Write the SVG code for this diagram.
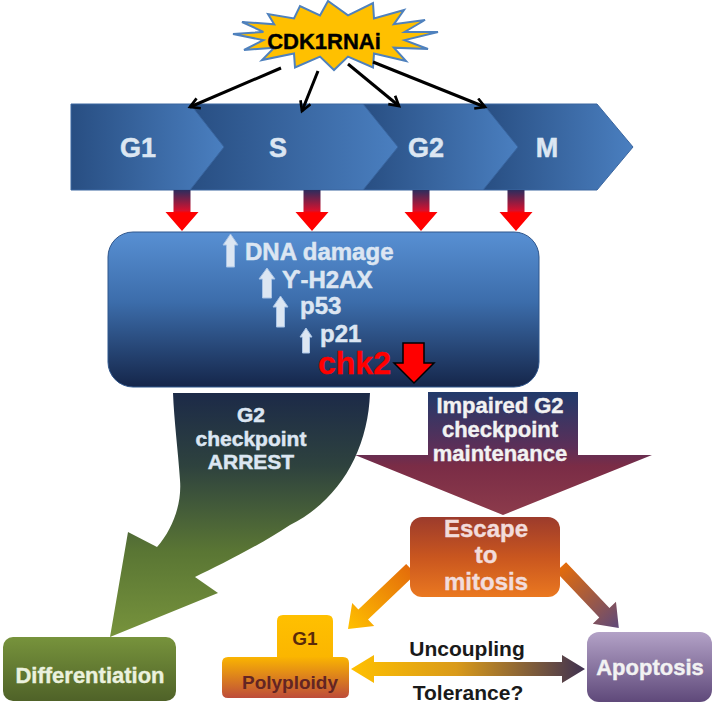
<svg xmlns="http://www.w3.org/2000/svg" width="724" height="706" viewBox="0 0 724 706">
<defs>
<style>
text{font-family:"Liberation Sans",Arial,sans-serif;font-weight:bold;text-anchor:middle}
.lt{fill:#dce6f2;stroke:#dce6f2;stroke-width:0.5}
.wt{fill:#f2f2f2;stroke:#f2f2f2;stroke-width:0.4}
.blk{stroke:#000;stroke-width:3;fill:none;marker-end:url(#va)}
.up{fill:#dce6f2;stroke:#a9c4e6;stroke-width:1}
</style>
<marker id="va" viewBox="0 0 10 10" refX="8" refY="5" markerWidth="4.5" markerHeight="4.5" orient="auto" markerUnits="strokeWidth">
<path d="M1,1 L8,5 L1,9" fill="none" stroke="#000" stroke-width="2"/>
</marker>
<linearGradient id="seg" x1="0" y1="0" x2="1" y2="0">
<stop offset="0" stop-color="#284e82"/><stop offset="1" stop-color="#4a7fc0"/>
</linearGradient>
<linearGradient id="red" x1="0" y1="0" x2="0" y2="1">
<stop offset="0" stop-color="#2b2d5e"/><stop offset="0.5" stop-color="#d6112e"/><stop offset="0.56" stop-color="#ff0000"/><stop offset="1" stop-color="#ff0000"/>
</linearGradient>
<linearGradient id="box" x1="0" y1="0" x2="0" y2="1">
<stop offset="0" stop-color="#5890d3"/><stop offset="0.45" stop-color="#3c6dab"/><stop offset="1" stop-color="#15264a"/>
</linearGradient>
<linearGradient id="grn" x1="0" y1="0" x2="0" y2="1">
<stop offset="0" stop-color="#1c2a48"/><stop offset="0.3" stop-color="#2e423e"/><stop offset="0.65" stop-color="#5a7634"/><stop offset="1" stop-color="#77933c"/>
</linearGradient>
<linearGradient id="imp" x1="0" y1="0" x2="0" y2="1">
<stop offset="0" stop-color="#213a6b"/><stop offset="0.45" stop-color="#5c2f58"/><stop offset="0.6" stop-color="#7a2c46"/><stop offset="1" stop-color="#8c3b4b"/>
</linearGradient>
<linearGradient id="esc" x1="0" y1="0" x2="0" y2="1">
<stop offset="0" stop-color="#9c3b2c"/><stop offset="0.5" stop-color="#c9561f"/><stop offset="1" stop-color="#ea7820"/>
</linearGradient>
<linearGradient id="dif" x1="0" y1="0" x2="0" y2="1">
<stop offset="0" stop-color="#77933c"/><stop offset="1" stop-color="#4f6228"/>
</linearGradient>
<linearGradient id="apo" x1="0" y1="0" x2="0" y2="1">
<stop offset="0" stop-color="#b3a2c7"/><stop offset="1" stop-color="#5f497a"/>
</linearGradient>
<linearGradient id="pol" x1="0" y1="0" x2="0" y2="1">
<stop offset="0" stop-color="#ffc000"/><stop offset="0.5" stop-color="#fbb600"/><stop offset="1" stop-color="#bd4c3a"/>
</linearGradient>
<linearGradient id="arL" x1="0" y1="0" x2="1" y2="0">
<stop offset="0" stop-color="#e46c0a"/><stop offset="1" stop-color="#ffc000"/>
</linearGradient>
<linearGradient id="arR" x1="0" y1="0" x2="1" y2="0">
<stop offset="0" stop-color="#e46c0a"/><stop offset="1" stop-color="#5f497a"/>
</linearGradient>
<linearGradient id="dbl" x1="0" y1="0" x2="1" y2="0">
<stop offset="0" stop-color="#ffc000"/><stop offset="0.45" stop-color="#d99a1a"/><stop offset="1" stop-color="#3f3151"/>
</linearGradient>
</defs>

<g id="cdk1rnai">
<polygon points="438,32 404.6,40.1 428,49 393.8,47.7 406,61 374,53.5 373,67.4 348,56.6 334,70 320,56.6 295,67.4 294,53.5 262,60 274.2,47.7 244,50 263.4,40.1 233,34 263.4,31.9 242,22 274.2,24.3 268,14 294,18.5 300,6 320,15.4 328,1 348,15.4 373,3 374,18.5 404,10 393.8,24.3 425,20 404.6,31.9" fill="#ffc000" stroke="#4f81bd" stroke-width="2" stroke-linejoin="miter"/>
<text x="324" y="49" font-size="22" fill="#000" stroke="#000" stroke-width="0.4">CDK1RNAi</text>
</g>

<g id="phase-m">
<polygon points="483,104 597,104 633,147 597,190 483,190" fill="url(#seg)" stroke="#3a66a0" stroke-width="1"/>
<text class="lt" x="547" y="157" font-size="27">M</text>
</g>
<g id="phase-g2">
<polygon points="363,104 483,104 518,147 483,190 363,190" fill="url(#seg)" stroke="#3a66a0" stroke-width="1"/>
<text class="lt" x="426" y="157" font-size="27">G2</text>
</g>
<g id="phase-s">
<polygon points="190,104 363,104 398,147 363,190 190,190" fill="url(#seg)" stroke="#3a66a0" stroke-width="1"/>
<text class="lt" x="278" y="157" font-size="27">S</text>
</g>
<g id="phase-g1">
<polygon points="71,104 190,104 224,147 190,190 71,190" fill="url(#seg)" stroke="#3a66a0" stroke-width="1"/>
<text class="lt" x="138" y="157" font-size="27">G1</text>
</g>

<g id="connectors">
<line class="blk" x1="281" y1="68" x2="190" y2="107"/>
<line class="blk" x1="318" y1="71" x2="302" y2="111"/>
<line class="blk" x1="348" y1="64" x2="399" y2="106"/>
<line class="blk" x1="373" y1="62" x2="485" y2="107"/>
<path d="M173.5,190 h17 v22 h8 l-16.5,19 l-16.5,-19 h8 z" fill="url(#red)"/>
<path d="M303.5,190 h17 v22 h8 l-16.5,19 l-16.5,-19 h8 z" fill="url(#red)"/>
<path d="M412.5,190 h17 v22 h8 l-16.5,19 l-16.5,-19 h8 z" fill="url(#red)"/>
<path d="M507.5,190 h17 v22 h8 l-16.5,19 l-16.5,-19 h8 z" fill="url(#red)"/>
<g transform="translate(411,569) rotate(136.4)">
<polygon points="0,-7 66,-7 66,-16 87,0 66,16 66,7 0,7" fill="url(#arL)"/>
</g>
<g transform="translate(561,567) rotate(46.5)">
<polygon points="0,-7 63,-7 63,-16 84,0 63,16 63,7 0,7" fill="url(#arR)"/>
</g>
<polygon points="351,669 374,655 374,662 562,662 562,655 585,669 562,683 562,676 374,676 374,683" fill="url(#dbl)"/>
<text x="467" y="656" font-size="21" fill="#1a1a1a">Uncoupling</text>
<text x="468" y="700" font-size="21" fill="#1a1a1a">Tolerance?</text>
</g>

<g id="damage-box">
<rect x="108" y="232" width="431" height="155" rx="25" fill="url(#box)" stroke="#2f568c" stroke-width="1"/>
<path class="up" d="M230.5,234 L238,245 L234.5,245 L234.5,267 L226.5,267 L226.5,245 L223,245 Z"/>
<text class="lt" x="245" y="260" font-size="24" style="text-anchor:start">DNA damage</text>
<path class="up" d="M267,268 L275,279 L271.5,279 L271.5,298 L262.5,298 L262.5,279 L259,279 Z"/>
<text class="lt" x="282" y="288" font-size="24" style="text-anchor:start">ϒ-H2AX</text>
<path class="up" d="M280.5,296 L288,307 L284.5,307 L284.5,327 L276.5,327 L276.5,307 L273,307 Z"/>
<text class="lt" x="300" y="314" font-size="24" style="text-anchor:start">p53</text>
<path class="up" d="M306,328 L312,337 L309.5,337 L309.5,353 L302.5,353 L302.5,337 L300,337 Z"/>
<text class="lt" x="320" y="342" font-size="24" style="text-anchor:start">p21</text>
<text x="318" y="374" font-size="32" fill="#ff0000" stroke="#ff0000" stroke-width="0.4" style="text-anchor:start">chk2</text>
<path d="M403,343 h21 v20 h10 l-20,20 l-20,-20 h9 z" fill="#ff0000" stroke="#000" stroke-width="1.5"/>
</g>

<g id="g2-arrest">
<path d="M173,393 L370,393 C368,450 340,500 290,525 C260,545 220,565 195,577 L218,593 L110,637 L128,532 L157,547 C172,530 182,505 180,480 C178,450 174,420 173,393 Z" fill="url(#grn)"/>
<text class="lt" x="251" y="422" font-size="21">G2</text>
<text class="lt" x="251" y="446" font-size="21">checkpoint</text>
<text class="lt" x="251" y="469" font-size="21">ARREST</text>
</g>

<g id="impaired-g2">
<polygon points="428,392 578,392 578,455 652,455 503,515 355,455 428,455" fill="url(#imp)"/>
<text class="wt" x="500" y="413" font-size="22">Impaired G2</text>
<text class="wt" x="500" y="437" font-size="22">checkpoint</text>
<text class="wt" x="500" y="461" font-size="22">maintenance</text>
</g>

<g id="escape">
<rect x="410" y="517" width="150" height="80" rx="12" fill="url(#esc)"/>
<text x="486" y="537" font-size="24" fill="#f2dcdb" stroke="#f2dcdb" stroke-width="0.4">Escape</text>
<text x="486" y="563" font-size="24" fill="#f2dcdb" stroke="#f2dcdb" stroke-width="0.4">to</text>
<text x="486" y="590" font-size="24" fill="#f2dcdb" stroke="#f2dcdb" stroke-width="0.4">mitosis</text>
</g>

<g id="differentiation">
<rect x="3" y="637" width="173" height="64" rx="10" fill="url(#dif)"/>
<text x="90" y="683" font-size="22" fill="#ebf1de" stroke="#ebf1de" stroke-width="0.4">Differentiation</text>
</g>

<g id="polyploidy">
<path d="M283,615 H327 Q333,615 333,621 V657 H343 Q349,657 349,663 V692 Q349,698 343,698 H228 Q222,698 222,692 V663 Q222,657 228,657 H277 V621 Q277,615 283,615 Z" fill="url(#pol)"/>
<text x="305" y="645" font-size="19" fill="#5a2a0a">G1</text>
<text x="290" y="689" font-size="19" fill="#632523">Polyploidy</text>
</g>

<g id="apoptosis">
<rect x="587" y="632" width="125" height="70" rx="12" fill="url(#apo)"/>
<text x="650" y="675" font-size="22" fill="#f2f2f2" stroke="#f2f2f2" stroke-width="0.4">Apoptosis</text>
</g>
</svg>
